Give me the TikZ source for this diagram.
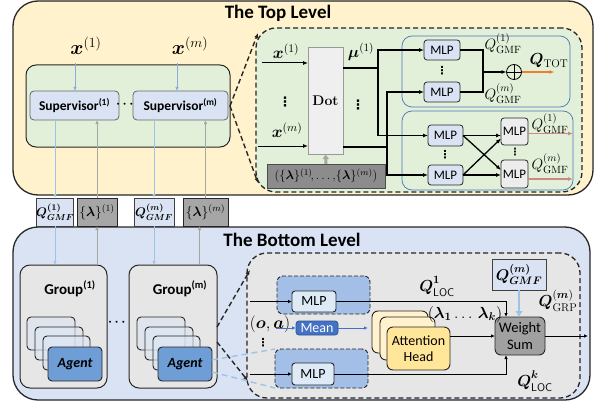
\RequirePackage{fix-cm}
\documentclass[tikz,border=0pt]{standalone}
\usepackage{amsmath,bm}
\usepackage{fontspec}
\newfontfamily\calib{Carlito}
\newfontfamily\dejavu{DejaVu Sans}
\usetikzlibrary{arrows.meta,calc}
\definecolor{topy}{HTML}{FFF2CC}
\definecolor{grn}{HTML}{E2F0D9}
\definecolor{supf}{HTML}{DAE3F3}
\definecolor{botb}{HTML}{DAE3F3}
\definecolor{lblue}{HTML}{8FAADC}
\definecolor{llblue}{HTML}{9DC3E6}
\definecolor{lgray}{HTML}{A6A6A6}
\definecolor{lamg}{HTML}{A6A6A6}
\definecolor{lamdg}{HTML}{8C8C8C}
\definecolor{grpg}{HTML}{E7E6E6}
\definecolor{zgray}{HTML}{E6E6E6}
\definecolor{agentb}{HTML}{6E9ED5}
\definecolor{stkf}{HTML}{DCE5F2}
\definecolor{mgf}{HTML}{A3BFE8}
\definecolor{mlpf}{HTML}{DEEBF7}
\definecolor{meanb}{HTML}{4472C4}
\definecolor{meand}{HTML}{2F5597}
\definecolor{atf}{HTML}{FFE699}
\definecolor{atb}{HTML}{FFF2CC}
\definecolor{wsg}{HTML}{A0A0A0}
\definecolor{bord}{HTML}{4A74B8}
\definecolor{orng}{HTML}{ED7D31}
\definecolor{pinkr}{HTML}{C98A84}
\definecolor{dotg}{HTML}{EFEFEF}
\definecolor{mlpg}{HTML}{EDEDED}
\newcommand\bx[7]{\node[#6, minimum width=#4pt-#2pt, minimum height=#5pt-#3pt] (#1) at ({(#2+#4)/2},{(#3+#5)/2}) {#7};}
\newcommand\agstack[2]{%
\begin{scope}[xshift=#1]
\bx{#2a}{27}{317}{75}{350}{stk}{}
\bx{#2b}{35}{327}{83}{360}{stk}{}
\bx{#2c}{43}{336}{90}{370}{stk}{}
\bx{#2}{48}{347}{102}{381}{agent}{Agent}
\end{scope}}
\begin{document}
\begin{tikzpicture}[x=1pt,y=-1pt,
  every node/.style={inner sep=0pt,outer sep=0pt},
  sf/.style={font=\calib\fontsize{#1}{#1}\selectfont},
  sfb/.style={font=\calib\bfseries\fontsize{#1}{#1}\selectfont},
  mf/.style={font=\fontsize{#1}{#1}\selectfont},
  vd/.style={font=\dejavu\bfseries\fontsize{#1}{#1}\selectfont},
  arr/.style={-{Latex[length=5pt,width=4pt]}},
  sarr/.style={-{Latex[length=4pt,width=3.5pt]}},
  ln/.style={line width=1.3pt,black},
  ln2/.style={line width=1pt,black},
  panel/.style={draw=black!85,line width=1.3pt,rounded corners=25pt},
  dbox/.style={draw=black!85,line width=1.3pt,dash pattern=on 5pt off 3pt,rounded corners=20pt},
  dline/.style={draw=black!85,line width=1.4pt,dash pattern=on 5pt off 3pt},
  supb/.style={draw=gray!80!black,line width=0.8pt,rounded corners=4pt,fill=supf,sfb=13.5},
  mlpt/.style={draw=black!85,line width=0.8pt,rounded corners=3pt,fill=supf,sf=13},
  mlpgr/.style={draw=black!85,line width=0.8pt,rounded corners=3pt,fill=mlpg,sf=13},
  stk/.style={draw=black!85,line width=0.9pt,rounded corners=4pt,fill=stkf,fill opacity=0.6},
  agent/.style={draw=black!85,line width=0.9pt,rounded corners=4pt,fill=agentb,font=\calib\bfseries\itshape\fontsize{14}{14}\selectfont},
  grp/.style={draw=black!85,line width=1pt,rounded corners=10pt,fill=grpg},
  mlpg/.style={draw=black!85,line width=0.9pt,dash pattern=on 4pt off 2pt,rounded corners=6pt,fill=mgf},
  mlpb/.style={draw=black!85,line width=0.9pt,rounded corners=3pt,fill=mlpf,sf=14},
  blarr/.style={draw=lblue,line width=1pt,sarr},
  llarr/.style={draw=llblue,line width=0.8pt,sarr},
  gyarr/.style={draw=lgray,line width=0.8pt,sarr},
]
\fill[white] (0,0) rectangle (599,409);
\useasboundingbox (0,0) rectangle (599,409);

% ---------- top level ----------
\bx{top}{13}{1}{593}{195}{panel,fill=topy}{}
\node[sfb=19] (toptitle) at (278,13) {The Top Level};
\bx{sg}{26}{65}{230}{147}{draw=black!85,line width=1pt,rounded corners=10pt,fill=grn}{}
\bx{sup1}{30}{91}{119}{120}{supb}{Supervisor\textsuperscript{(1)}}
\bx{supm}{133}{91}{228}{120}{supb}{Supervisor\textsuperscript{(m)}}
\node[font=\bfseries\fontsize{13}{13}\selectfont] (sdots) at (126,104) {$\boldsymbol{\cdots}$};
\node[mf=20] (xl1) at (86,46) {$\boldsymbol{x}^{(1)}$};
\node[mf=20] (xlm) at (190,46) {$\boldsymbol{x}^{(m)}$};
\coordinate (xa1) at (75,63);
\coordinate (xam) at (177,63);
\draw[blarr] (xa1) -- (xa1 |- sup1.north);
\draw[blarr] (xam) -- (xam |- supm.north);

% zoom box (top)
\bx{tz}{256}{28}{582}{192}{dbox,fill=grn}{}
\coordinate (tz1) at (258,33);
\coordinate (tz2) at (258,183);
\draw[dline,arr] (sg.east) -- (tz1);
\draw[dline,arr] (sg.east) -- (tz2);

\bx{ug}{402}{36}{570}{107}{draw=bord,line width=0.7pt,rounded corners=10pt}{}
\bx{lg}{402}{111}{573}{190}{draw=bord,line width=0.7pt,rounded corners=10pt}{}

\bx{dot}{308}{47}{343}{154}{draw=gray!80,line width=0.8pt,fill=dotg,font=\bfseries\fontsize{14}{14}\selectfont}{Dot}
\bx{lb}{267}{164}{385}{188}{draw=black!70,line width=1pt,fill=lamdg,mf=12.5}{$(\{\boldsymbol{\lambda}\}^{(1)}\!,\ldots,\!\{\boldsymbol{\lambda}\}^{(m)})$}
\draw[draw=lgray,line width=3pt,-{Latex[length=5pt,width=7pt]}] (lb.north) -- (dot.south);

\node[mf=16.5] (tx1) at (286,51) {$\boldsymbol{x}^{(1)}$};
\node[mf=16.5] (txm) at (287,130) {$\boldsymbol{x}^{(m)}$};
\coordinate (ti1) at (262,63);
\coordinate (tim) at (258,146);
\draw[ln2,arr] (ti1) -- (ti1 -| dot.west);
\draw[ln2,arr] (tim) -- (tim -| dot.west);
\node[vd=13] (vd1) at (285,102) {⋮};
\node[vd=13] (vd2) at (358,105) {⋮};
\node[mf=16] (mu1) at (361,52) {$\boldsymbol{\mu}^{(1)}$};

\bx{mlp1}{424}{40}{460}{60}{mlpt}{MLP}
\bx{mlp2}{424}{82}{460}{102}{mlpt}{MLP}
\bx{mlp3}{428}{125}{463}{146}{mlpt}{MLP}
\bx{mlp4}{428}{165}{463}{185}{mlpt}{MLP}
\bx{mlp5}{501}{118}{528}{145}{mlpgr}{MLP}
\bx{mlp6}{501}{160}{528}{188}{mlpgr}{MLP}
\node[vd=11] (vd3) at (442,71) {⋮};
\node[vd=11] (vd4) at (445,155) {⋮};
\node[vd=10] (vd5) at (515,152.5) {⋮};

\coordinate (o1) at (343,68);
\coordinate (o2) at (343,147);
\coordinate (b1) at (378,68);
\coordinate (b2) at (387,147);
\draw[ln] (o1) -- (b1);
\draw[ln] (o2) -- (b2);
\draw[ln,arr] (b1) |- (mlp1);
\draw[ln,arr] (b1) |- (mlp3);
\draw[ln,arr] (b2) |- (mlp2);
\draw[ln,arr] (b2) |- (mlp4);

\node[circle,draw=black,line width=0.8pt,minimum size=15pt] (plus) at (514,72) {};
\draw[line width=0.8pt] (plus.north) -- (plus.south) (plus.west) -- (plus.east);
\coordinate (mg) at (483,72);
\draw[ln] (mlp1.east) -| (mg);
\draw[ln] (mlp2.east) -| (mg);
\draw[ln,arr] (mg) -- (plus.west);
\draw[draw=orng,line width=2pt,arr] (plus.east) -- ++(33,0);
\node[mf=15] (qg1) at (503,44) {$Q^{(1)}_{\mathrm{GMF}}$};
\node[mf=15] (qgm) at (503,94) {$Q^{(m)}_{\mathrm{GMF}}$};
\node[mf=16] (qtot) at (549,61) {$\boldsymbol{Q}_{\mathrm{TOT}}$};

\draw[ln,arr] (mlp3.east) -- (mlp3.east -| mlp5.west);
\draw[ln,arr] (mlp3.east) -- ($(mlp6.west)+(0,-4)$);
\draw[ln,arr] (mlp4.east) -- (mlp4.east -| mlp6.west);
\draw[ln,arr] (mlp4.east) -- ($(mlp5.west)+(0,7)$);
\draw[draw=pinkr,line width=1.6pt,arr] ($(mlp5.east)+(0,2)$) -- ++(45,0);
\draw[draw=pinkr,line width=1.6pt,arr] ($(mlp6.east)+(0,5)$) -- ++(45,0);
\node[mf=15] (qg5) at (550,124) {$Q^{(1)}_{\mathrm{GMF}}$};
\node[mf=15] (qg6) at (550,164) {$Q^{(m)}_{\mathrm{GMF}}$};

% ---------- middle ----------
\bx{bot}{13}{227}{590}{400}{panel,fill=botb}{}
\bx{q1}{37}{198}{73}{226}{draw=black!75,line width=1pt,fill=supf,mf=12.5}{$\boldsymbol{Q^{(1)}_{GMF}}$}
\bx{l1}{77}{198}{117}{226}{draw=black!85,line width=1pt,fill=lamg,mf=13.5}{$\{\boldsymbol{\lambda}\}^{(1)}$}
\bx{qm}{134}{198}{174}{226}{draw=black!75,line width=1pt,fill=supf,mf=12.5}{$\boldsymbol{Q^{(m)}_{GMF}}$}
\bx{lm}{183}{198}{228}{226}{draw=black!85,line width=1pt,fill=lamg,mf=13.5}{$\{\boldsymbol{\lambda}\}^{(m)}$}
\draw[llarr] (sup1.south -| q1.north) -- (q1.north);
\draw[llarr] (supm.south -| qm.north) -- (qm.north);
\draw[gyarr] (l1.north) -- (l1.north |- sup1.south);
\draw[gyarr] (lm.north) -- (lm.north |- supm.south);

% ---------- bottom level ----------
\node[sfb=19] (bottitle) at (292,240) {The Bottom Level};
\bx{g1}{20}{265}{107}{388}{grp}{}
\bx{gm}{129}{265}{217}{388}{grp}{}
\node[sfb=15] (g1t) at (70,289) {Group\textsuperscript{(1)}};
\node[sfb=15] (gmt) at (180,289) {Group\textsuperscript{(m)}};
\draw[llarr] (q1.south) -- (q1.south |- g1.north);
\draw[llarr] (qm.south) -- (qm.south |- gm.north);
\draw[gyarr] (l1.south |- g1.north) -- (l1.south);
\draw[gyarr] ($(lm.south |- gm.north)+(-6,0)$) -- ($(lm.south)+(-6,0)$);
\agstack{0}{ag1}
\agstack{110}{agm}
\node[font=\bfseries\fontsize{13}{13}\selectfont] (gdots) at (118,322) {$\boldsymbol{\cdots}$};

% zoom box (bottom)
\bx{bz}{247}{253}{580}{398}{dbox,fill=zgray}{}
\coordinate (gz1) at (217,327);
\coordinate (gz2) at (217,342);
\coordinate (bz1) at (250,270);
\coordinate (bz2) at (248,381);
\draw[dline,arr] (gz1) -- (bz1);
\draw[dline,arr] (gz2) -- (bz2);

\bx{mga}{277}{276}{370}{314}{mlpg}{}
\bx{mgb}{275}{349}{368}{388}{mlpg}{}
\bx{mlpa}{292}{291}{336}{312}{mlpb}{MLP}
\bx{mlpb}{292}{363}{334}{385}{mlpb}{MLP}
\draw[draw=llblue,line width=1.4pt,dash pattern=on 6pt off 4pt] ($(agm.east)+(0,-4)$) -- (mgb.north west);
\draw[draw=llblue,line width=1.4pt,dash pattern=on 6pt off 4pt] ($(agm.east)+(0,8)$) -- (mgb.south west);

\coordinate (ia) at (250,301.5);
\coordinate (ib) at (250,374);
\draw[ln2,sarr] (ia) -- (mlpa.west);
\draw[ln2,sarr] (ib) -- (mlpb.west);

\bx{mean}{296}{321}{338}{335}{draw=meand,line width=0.8pt,rounded corners=3pt,fill=meanb,text=white,sf=14}{Mean}
\node[mf=17] (oa) at (270,324) {$(\boldsymbol{o},\boldsymbol{a})$};
\node[vd=11] (vd6) at (263,343) {⋮};
\coordinate (oin) at (276,328);
\coordinate (mout) at (368,328);
\draw[draw=meanb,line width=1pt,sarr] (oin) -- (mean.west);
\draw[draw=meanb,line width=1pt,sarr] (mean.east) -- (mout);

\bx{at1}{372}{311}{428}{353}{draw=black!85,line width=0.9pt,rounded corners=6pt,fill=atb}{}
\bx{at2}{380}{317}{435}{360}{draw=black!85,line width=0.9pt,rounded corners=6pt,fill=atb}{}
\bx{att}{387}{327}{450}{370}{draw=black!85,line width=0.9pt,rounded corners=6pt,fill=atf,sf=14,align=center}{Attention\\[2pt]Head}

\bx{ws}{495}{317}{545}{355}{draw=black!85,line width=0.9pt,rounded corners=6pt,fill=wsg,sf=14.5,align=center}{Weight\\[2pt]Sum}
\bx{qg}{492}{259}{546}{290}{draw=black!75,line width=1pt,fill=supf,mf=15.5}{$\boldsymbol{Q^{(m)}_{GMF}}$}
\draw[draw=llblue,line width=2.5pt,-{Latex[length=6pt,width=8pt]}] (qg.south) -- (qg.south |- ws.north);

\coordinate (wa) at ($(ws.north west)+(11,0)$);
\coordinate (wb) at ($(ws.south west)+(11,0)$);
\draw[ln2,sarr] (mlpa.east) -| (wa);
\draw[ln2,sarr] (mlpb.east) -| (wb);
\draw[ln2,sarr] (att.east |- ws.west) -- (ws.west);
\draw[ln2,sarr] (ws.east) -- ++(43,0);

\node[mf=16] (ql1) at (437,286) {$\boldsymbol{Q}^{\boldsymbol{1}\vphantom{(}}_{\mathsf{LOC}}$};
\node[mf=16] (qlk) at (535,381) {$\boldsymbol{Q}^{\boldsymbol{k}\vphantom{(}}_{\mathsf{LOC}}$};
\node[mf=16] (lam) at (465,314) {$(\boldsymbol{\lambda_1}\ldots\,\boldsymbol{\lambda_k})$};
\node[mf=16] (qgrp) at (558,301) {$\boldsymbol{Q}^{(\boldsymbol{m})}_{\mathrm{GRP}}$};
\end{tikzpicture}
\end{document}
